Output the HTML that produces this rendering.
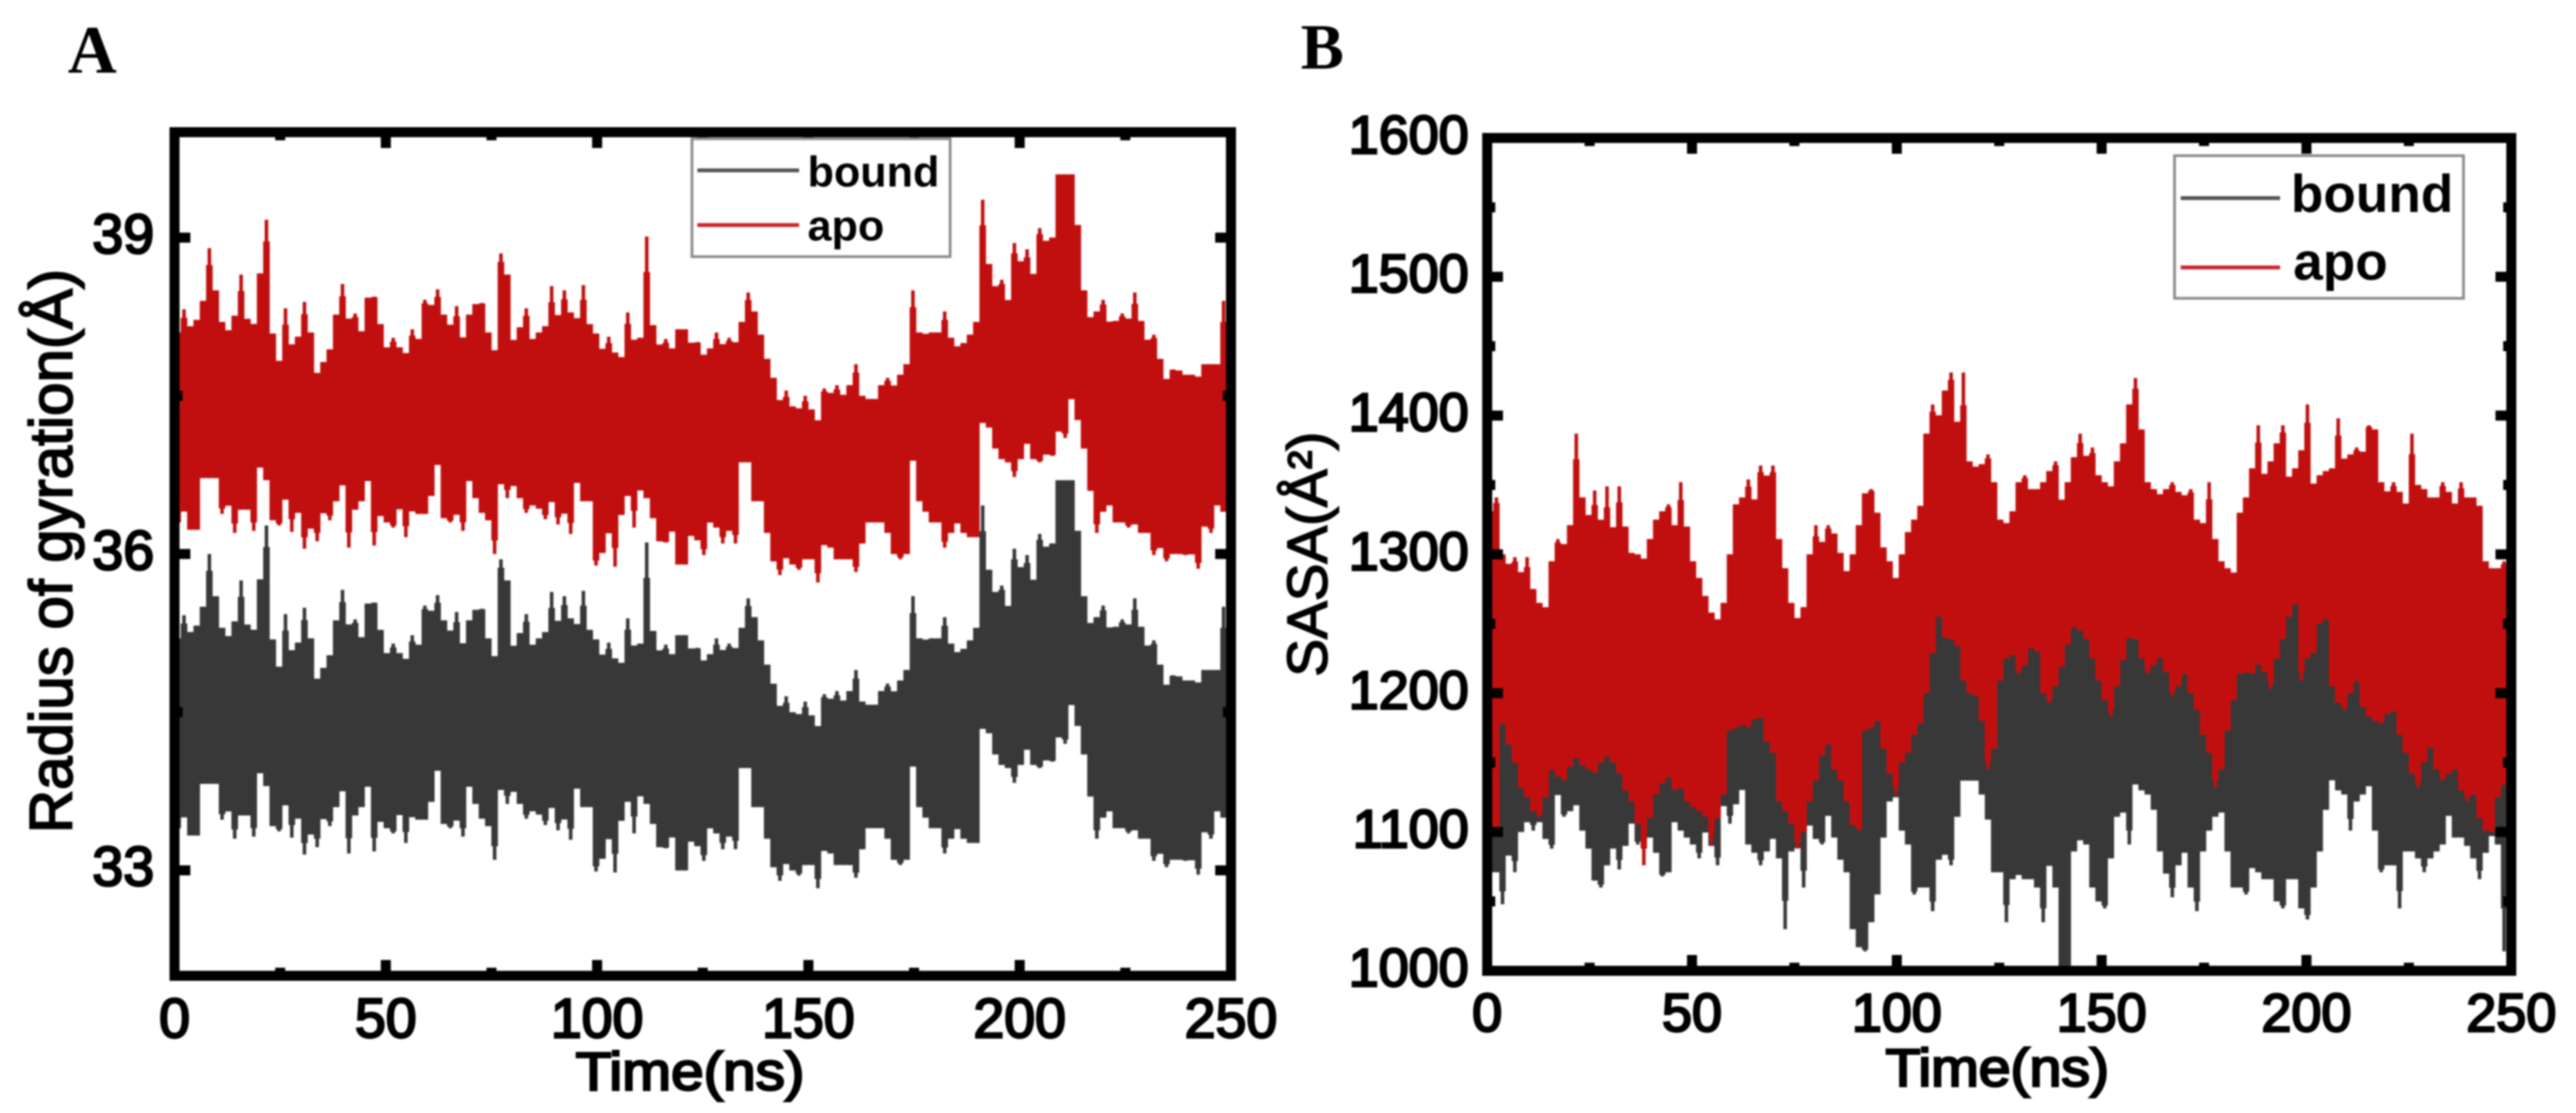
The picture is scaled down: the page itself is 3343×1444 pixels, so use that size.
<!DOCTYPE html>
<html lang="en">
<head>
<meta charset="utf-8">
<title>Radius of gyration and SASA over time</title>
<style>
html,body{margin:0;padding:0;background:#fff;width:3343px;height:1444px;overflow:hidden}
#figure{display:block;filter:blur(1px)}
text{font-family:"Liberation Sans",sans-serif;fill:#000}
</style>
</head>
<body>
<svg id="figure" xmlns="http://www.w3.org/2000/svg" width="3343" height="1444" viewBox="0 0 3343 1444">
  <rect x="0" y="0" width="3343" height="1444" fill="#fff"/>
  <defs>
    <clipPath id="clip-a"><rect x="226" y="172" width="1371" height="1094"/></clipPath>
    <clipPath id="clip-b"><rect x="1930" y="179" width="1329" height="1080"/></clipPath>
  </defs>
  <g id="panel-a"></g>
  <g id="panel-b"></g>
  <text x="88" y="94" style="font-family:'Liberation Serif',serif;font-weight:700;font-size:88px">A</text>
  <text x="1688" y="89" style="font-family:'Liberation Serif',serif;font-weight:700;font-size:84px">B</text>
  <text transform="translate(93,1081) rotate(-90)" textLength="732" lengthAdjust="spacingAndGlyphs" stroke="#000" stroke-width="2.4" style="font-size:78px">Radius of gyration(Å)</text>
  <text transform="translate(1722,878) rotate(-90)" textLength="318" lengthAdjust="spacingAndGlyphs" stroke="#000" stroke-width="2" style="font-size:73px">SASA(Å²)</text>
  <text x="747" y="1414" textLength="297" lengthAdjust="spacingAndGlyphs" stroke="#000" stroke-width="3" style="font-size:70px">Time(ns)</text>
  <text x="2447" y="1409" textLength="290" lengthAdjust="spacingAndGlyphs" stroke="#000" stroke-width="3" style="font-size:69px">Time(ns)</text>
</svg>
<script>
const samplingStepNs = 1.5;

const xMajorTicks = [0, 50, 100, 150, 200, 250];
const xMinorTicks = [25, 75, 125, 175, 225];
const rgMajorTicks = [33, 36, 39];
const rgMinorTicks = [34.5, 37.5];
const sasaMajorTicks = [1000, 1100, 1200, 1300, 1400, 1500, 1600];
const sasaMinorTicks = [1050, 1150, 1250, 1350, 1450, 1550];

const rgApoHigh = [
38.1,38.32,38.12,38.22,38.4,38.9,38.5,38.2,38.07,38.26,
38.65,38.23,38.15,38.66,39.17,38.09,37.66,38.33,37.94,38.06,
38.39,38.1,37.65,37.82,37.94,38.27,38.56,38.2,38.28,38.0,
38.43,38.44,38.18,37.9,38.05,37.96,37.87,38.13,37.98,38.41,
38.33,38.51,38.27,38.11,38.35,37.91,38.27,38.37,38.38,38.1,
37.82,38.85,38.65,37.95,38.15,38.33,38.0,38.1,38.16,38.54,
38.11,38.5,38.29,38.2,38.55,38.18,38.09,37.87,38.06,37.91,
37.84,38.29,38.02,38.05,39.01,38.17,37.95,38.04,37.89,38.13,
38.13,38.0,38.01,37.85,37.95,38.1,37.95,38.05,37.98,38.2,
38.48,38.3,38.08,37.85,37.67,37.4,37.55,37.4,37.37,37.5,
37.37,37.2,37.57,37.5,37.6,37.45,37.6,37.8,37.5,37.47,
37.47,37.6,37.67,37.55,37.7,37.8,38.5,38.1,38.08,38.1,
38.1,38.3,38.05,37.95,38.0,38.08,38.2,39.36,38.75,38.5,
38.6,38.28,38.95,38.7,38.89,38.5,39.09,38.95,39.0,39.6,
39.6,39.6,39.12,38.5,38.21,38.3,38.41,38.2,38.21,38.28,
38.2,38.48,38.21,38.0,38.08,37.85,37.6,37.75,37.74,37.7,
37.7,37.67,37.8,37.8,37.8,38.4,37.9];

const rgApoLow = [
36.3,36.47,36.23,36.23,36.72,36.72,36.72,36.38,36.51,36.2,
36.42,36.42,36.22,36.9,36.7,36.32,36.27,36.68,36.21,36.51,
36.05,36.32,36.12,36.43,36.32,36.5,36.75,36.06,36.42,36.5,
36.82,36.08,36.4,36.3,36.25,36.54,36.16,36.42,36.38,36.38,
36.55,37.04,36.34,36.3,36.42,36.22,36.8,36.53,36.39,36.32,
36.0,36.75,36.53,36.72,36.53,36.39,36.48,36.43,36.33,36.6,
36.28,36.45,36.19,36.79,36.5,36.5,35.89,36.01,36.32,35.88,
36.37,36.67,36.25,36.65,36.53,36.34,36.12,36.11,36.28,35.9,
35.9,36.2,36.13,35.99,36.33,36.25,36.1,36.3,36.1,36.87,
36.87,36.5,36.5,36.2,35.93,35.8,36.0,35.9,35.85,35.95,
35.95,35.73,36.1,36.06,35.95,35.95,35.95,35.83,36.1,36.3,
36.3,36.3,36.2,36.0,35.95,36.0,37.14,36.5,36.4,36.3,
36.3,36.06,36.2,36.35,36.2,36.16,36.16,37.27,37.2,37.0,
36.9,36.87,36.73,36.9,37.14,36.9,36.87,36.95,36.93,37.2,
37.1,37.6,37.27,37.0,36.6,36.2,36.4,36.5,36.3,36.3,
36.25,36.3,36.2,36.2,35.99,36.1,35.93,36.0,36.0,35.99,
36.0,35.86,36.3,36.2,36.5,36.4,36.4];

const rgBoundHigh = [
35.2,35.42,35.22,35.32,35.5,36.0,35.6,35.3,35.17,35.36,
35.75,35.33,35.25,35.76,36.27,35.19,34.76,35.43,35.04,35.16,
35.49,35.2,34.75,34.92,35.04,35.37,35.66,35.3,35.38,35.1,
35.53,35.54,35.28,35.0,35.15,35.06,34.97,35.23,35.08,35.51,
35.43,35.61,35.37,35.21,35.45,35.01,35.37,35.47,35.48,35.2,
34.92,35.95,35.75,35.05,35.25,35.43,35.1,35.2,35.26,35.64,
35.21,35.6,35.39,35.3,35.65,35.28,35.19,34.97,35.16,35.01,
34.94,35.39,35.12,35.15,36.11,35.27,35.05,35.14,34.99,35.23,
35.23,35.1,35.11,34.95,35.05,35.2,35.05,35.15,35.08,35.3,
35.58,35.4,35.18,34.95,34.77,34.5,34.65,34.5,34.47,34.6,
34.47,34.3,34.67,34.6,34.7,34.55,34.7,34.9,34.6,34.57,
34.57,34.7,34.77,34.65,34.8,34.9,35.6,35.2,35.18,35.2,
35.2,35.4,35.15,35.05,35.1,35.18,35.3,36.46,35.85,35.6,
35.7,35.38,36.05,35.8,35.99,35.6,36.19,36.05,36.1,36.7,
36.7,36.7,36.22,35.6,35.31,35.4,35.51,35.3,35.31,35.38,
35.3,35.58,35.31,35.1,35.18,34.95,34.7,34.85,34.84,34.8,
34.8,34.77,34.9,34.9,34.9,35.5,35.0];

const rgBoundLow = [
33.4,33.57,33.33,33.33,33.82,33.82,33.82,33.48,33.61,33.3,
33.52,33.52,33.32,34.0,33.8,33.42,33.37,33.78,33.31,33.61,
33.15,33.42,33.22,33.53,33.42,33.6,33.85,33.16,33.52,33.6,
33.92,33.18,33.5,33.4,33.35,33.64,33.26,33.52,33.48,33.48,
33.65,34.14,33.44,33.4,33.52,33.32,33.9,33.63,33.49,33.42,
33.1,33.85,33.63,33.82,33.63,33.49,33.58,33.53,33.43,33.7,
33.38,33.55,33.29,33.89,33.6,33.6,32.99,33.11,33.42,32.98,
33.47,33.77,33.35,33.75,33.63,33.44,33.22,33.21,33.38,33.0,
33.0,33.3,33.23,33.09,33.43,33.35,33.2,33.4,33.2,33.97,
33.97,33.6,33.6,33.3,33.03,32.9,33.1,33.0,32.95,33.05,
33.05,32.83,33.2,33.16,33.05,33.05,33.05,32.93,33.2,33.4,
33.4,33.4,33.3,33.1,33.05,33.1,34.24,33.6,33.5,33.4,
33.4,33.16,33.3,33.45,33.3,33.26,33.26,34.37,34.3,34.1,
34.0,33.97,33.83,34.0,34.24,34.0,33.97,34.05,34.03,34.3,
34.2,34.7,34.37,34.1,33.7,33.3,33.5,33.6,33.4,33.4,
33.35,33.4,33.3,33.3,33.09,33.2,33.03,33.1,33.1,33.09,
33.1,32.96,33.4,33.3,33.6,33.5,33.5];

const sasaApoHigh = [
1331,1341,1300,1290,1298,1280,1298,1275,1265,1260,
1295,1311,1305,1321,1387,1341,1320,1346,1311,1349,
1300,1349,1320,1301,1300,1295,1311,1325,1331,1336,
1311,1352,1320,1295,1283,1270,1258,1250,1265,1300,
1336,1341,1354,1330,1364,1352,1364,1311,1290,1265,
1249,1262,1300,1321,1301,1321,1315,1301,1280,1300,
1321,1344,1347,1330,1305,1295,1275,1300,1316,1325,
1335,1387,1408,1395,1418,1431,1372,1431,1367,1362,
1365,1372,1352,1325,1321,1331,1352,1357,1347,1347,
1352,1360,1367,1331,1352,1370,1387,1367,1377,1357,
1352,1347,1367,1380,1408,1427,1390,1352,1347,1341,
1347,1352,1345,1341,1347,1325,1321,1352,1311,1295,
1290,1285,1330,1341,1362,1393,1352,1367,1380,1393,
1352,1362,1375,1408,1347,1357,1360,1362,1398,1367,
1372,1377,1372,1393,1390,1352,1341,1352,1345,1331,
1387,1350,1347,1341,1341,1352,1345,1331,1352,1341,
1341,1335,1295,1290,1290,1295,1275];

const sasaApoLow = [
1100,1100,1188,1163,1150,1132,1125,1115,1111,1125,
1147,1140,1137,1147,1157,1148,1145,1142,1150,1157,
1150,1142,1130,1122,1106,1076,1110,1127,1135,1142,
1130,1132,1122,1118,1115,1111,1091,1110,1127,1173,
1175,1178,1175,1181,1183,1165,1157,1122,1115,1106,
1088,1100,1122,1137,1155,1168,1145,1137,1122,1105,
1101,1173,1175,1183,1160,1142,1127,1150,1157,1170,
1178,1200,1229,1265,1240,1239,1234,1209,1200,1198,
1180,1145,1160,1209,1225,1229,1214,1220,1234,1230,
1200,1193,1205,1219,1235,1249,1245,1239,1225,1209,
1195,1183,1205,1224,1240,1239,1225,1214,1220,1229,
1215,1198,1205,1219,1200,1188,1170,1157,1132,1145,
1173,1195,1214,1215,1214,1224,1215,1203,1225,1239,
1255,1270,1209,1225,1229,1250,1255,1205,1193,1188,
1200,1214,1190,1183,1180,1178,1185,1188,1170,1157,
1142,1132,1150,1168,1145,1137,1142,1147,1130,1122,
1130,1110,1101,1100,1125,1140,1120];

const sasaBoundHigh = [
1230,1210,1190,1170,1180,1165,1175,1165,1170,1160,
1170,1175,1190,1195,1205,1200,1195,1210,1190,1205,
1190,1215,1200,1195,1190,1240,1210,1215,1225,1230,
1215,1260,1215,1200,1190,1195,1200,1195,1190,1200,
1215,1215,1225,1220,1240,1225,1240,1200,1185,1180,
1165,1175,1190,1200,1195,1205,1200,1190,1180,1185,
1190,1205,1210,1200,1190,1165,1175,1195,1205,1210,
1240,1260,1275,1280,1285,1270,1265,1260,1250,1240,
1240,1225,1215,1220,1235,1240,1235,1240,1245,1250,
1235,1225,1235,1245,1255,1265,1260,1250,1240,1230,
1220,1210,1230,1250,1265,1290,1255,1230,1235,1240,
1235,1225,1230,1235,1225,1205,1200,1210,1185,1180,
1190,1205,1230,1235,1235,1250,1235,1225,1240,1255,
1270,1285,1230,1240,1245,1265,1270,1230,1245,1225,
1235,1240,1225,1275,1245,1215,1210,1210,1205,1200,
1235,1210,1205,1195,1200,1210,1205,1195,1200,1195,
1190,1185,1175,1170,1175,1180,1170];

const sasaBoundLow = [
1071,1071,1048,1091,1071,1100,1111,1101,1111,1095,
1088,1137,1111,1115,1122,1101,1088,1065,1060,1076,
1096,1073,1090,1116,1091,1096,1096,1085,1068,1071,
1111,1101,1096,1091,1081,1106,1090,1076,1127,1106,
1120,1137,1091,1085,1076,1086,1101,1081,1030,1086,
1090,1060,1111,1095,1091,1122,1096,1080,1071,1030,
1017,1014,1035,1055,1096,1122,1127,1101,1091,1055,
1060,1060,1043,1080,1086,1076,1111,1137,1137,1137,
1127,1109,1071,1071,1035,1066,1071,1066,1066,1060,
1035,1086,1060,1000,1000,1086,1096,1091,1060,1050,
1045,1081,1111,1116,1091,1137,1130,1127,1116,1086,
1070,1053,1076,1091,1060,1043,1086,1101,1111,1116,
1086,1060,1060,1055,1076,1071,1066,1066,1050,1045,
1066,1066,1045,1037,1060,1086,1116,1142,1130,1127,
1101,1122,1127,1137,1101,1071,1076,1076,1045,1086,
1086,1081,1071,1081,1086,1091,1122,1096,1096,1090,
1081,1066,1085,1101,1091,1014,1100];

const SVG_NS = 'http://www.w3.org/2000/svg';

function svgEl(parent, tag, attrs, txt) {
  const el = document.createElementNS(SVG_NS, tag);
  for (const k in attrs) el.setAttribute(k, attrs[k]);
  if (txt !== undefined) el.textContent = txt;
  parent.appendChild(el);
  return el;
}

function linScale(d0, d1, r0, r1) {
  return v => r0 + (v - d0) * (r1 - r0) / (d1 - d0);
}

function softened(arr, i) {
  const a = arr[Math.max(0, i - 1)];
  const b = arr[i];
  const c = arr[Math.min(arr.length - 1, i + 1)];
  const med = [a, b, c].sort((p, q) => p - q)[1];
  return med + 0.6 * (b - med);
}

function drawSeries(g, xs, ys, high, low, color, clipId, width, name) {
  let core = '';
  let spikes = '';
  for (let i = 0; i < high.length; i++) {
    const px = xs(0.75 + i * samplingStepNs);
    core += 'M' + px.toFixed(1) + ' ' + ys(softened(high, i)).toFixed(1) + 'V' + ys(softened(low, i)).toFixed(1);
    spikes += 'M' + px.toFixed(1) + ' ' + ys(high[i]).toFixed(1) + 'V' + ys(low[i]).toFixed(1);
  }
  const c = svgEl(g, 'path', {d: core, stroke: color, 'stroke-width': width, fill: 'none', 'clip-path': 'url(#' + clipId + ')'});
  
  
  const s = svgEl(g, 'path', {d: spikes, stroke: color, 'stroke-width': 4.6, fill: 'none', 'clip-path': 'url(#' + clipId + ')'});
  
  
}

function drawPanel(cfg) {
  const g = document.getElementById(cfg.id);
  const xs = linScale(0, 250, cfg.x0, cfg.x1);
  const ys = linScale(cfg.yMin, cfg.yMax, cfg.yBottom, cfg.yTop);
  const colW = (cfg.x1 - cfg.x0) / 250 * samplingStepNs + 0.3;

  drawSeries(g, xs, ys, cfg.boundHigh, cfg.boundLow, '#383838', cfg.clip, colW, 'bound-series');
  drawSeries(g, xs, ys, cfg.apoHigh, cfg.apoLow, '#c10f0f', cfg.clip, colW, 'apo-series');

  const frame = svgEl(g, 'rect', {x: cfg.x0, y: cfg.yTop, width: cfg.x1 - cfg.x0, height: cfg.yBottom - cfg.yTop, fill: 'none', stroke: '#000', 'stroke-width': 13});
  
  

  const inset = 6.5;
  function xTick(t, len) {
    const px = xs(t);
    const a = svgEl(g, 'line', {x1: px, x2: px, y1: cfg.yBottom - inset, y2: cfg.yBottom - inset - len, stroke: '#000', 'stroke-width': 13});
    
    
    const b = svgEl(g, 'line', {x1: px, x2: px, y1: cfg.yTop + inset, y2: cfg.yTop + inset + len, stroke: '#000', 'stroke-width': 13});
    
    
  }
  function yTick(v, len) {
    const py = ys(v);
    const a = svgEl(g, 'line', {y1: py, y2: py, x1: cfg.x0 + inset, x2: cfg.x0 + inset + len, stroke: '#000', 'stroke-width': 13});
    
    
    const b = svgEl(g, 'line', {y1: py, y2: py, x1: cfg.x1 - inset, x2: cfg.x1 - inset - len, stroke: '#000', 'stroke-width': 13});
    
    
  }
  xMajorTicks.forEach(t => xTick(t, 14));
  xMinorTicks.forEach(t => xTick(t, 4));
  cfg.yMajor.forEach(v => yTick(v, 14));
  cfg.yMinor.forEach(v => yTick(v, 4));

  xMajorTicks.forEach(t => {
    const label = svgEl(g, 'text', {x: xs(t), y: cfg.xLabelY, 'text-anchor': 'middle', stroke: '#000', 'stroke-width': 3, style: 'font-size:' + cfg.tickFont + 'px'}, String(t));
    
    
  });
  cfg.yMajor.forEach(v => {
    const label = svgEl(g, 'text', {x: cfg.yLabelX, y: ys(v) + 20, 'text-anchor': 'end', stroke: '#000', 'stroke-width': 3, style: 'font-size:' + cfg.tickFont + 'px'}, String(v));
    
    
  });

  const L = cfg.legend;
  const legend = svgEl(g, 'g', {});
  
  
  const box = svgEl(legend, 'rect', {x: L.x, y: L.y, width: L.w, height: L.h, fill: '#fff', stroke: '#8a8a8a', 'stroke-width': 3.5});
  
  
  const entries = [
    {label: 'bound', color: '#555555', ly: L.y1, ty: L.t1, tx: L.tx1},
    {label: 'apo', color: '#c9252a', ly: L.y2, ty: L.t2, tx: L.tx2}
  ];
  entries.forEach(e => {
    const line = svgEl(legend, 'line', {x1: L.lx0, x2: L.lx1, y1: e.ly, y2: e.ly, stroke: e.color, 'stroke-width': L.lw});
    
    
    const text = svgEl(legend, 'text', {x: e.tx, y: e.ty, style: 'font-size:' + L.font + 'px;font-weight:700'}, e.label);
    
    
  });
}

drawPanel({
  id: 'panel-a', clip: 'clip-a',
  x0: 226.5, x1: 1597.5, yTop: 171.5, yBottom: 1266,
  yMin: 32, yMax: 40,
  apoHigh: rgApoHigh, apoLow: rgApoLow, boundHigh: rgBoundHigh, boundLow: rgBoundLow,
  yMajor: rgMajorTicks, yMinor: rgMinorTicks,
  tickFont: 72, xLabelY: 1346, yLabelX: 200,
  legend: {x: 898, y: 180, w: 335, h: 153, lx0: 905, lx1: 1037, y1: 221, y2: 292, t1: 242, t2: 312, tx1: 1048, tx2: 1048, font: 56, lw: 5}
});

drawPanel({
  id: 'panel-b', clip: 'clip-b',
  x0: 1930, x1: 3259, yTop: 179, yBottom: 1259.5,
  yMin: 1000, yMax: 1600,
  apoHigh: sasaApoHigh, apoLow: sasaApoLow, boundHigh: sasaBoundHigh, boundLow: sasaBoundLow,
  yMajor: sasaMajorTicks, yMinor: sasaMinorTicks,
  tickFont: 70, xLabelY: 1338, yLabelX: 1906,
  legend: {x: 2822, y: 202, w: 375, h: 185, lx0: 2830, lx1: 2959, y1: 257, y2: 347, t1: 275, t2: 363, tx1: 2973, tx2: 2976, font: 69, lw: 5}
});
</script>
</body>
</html>
